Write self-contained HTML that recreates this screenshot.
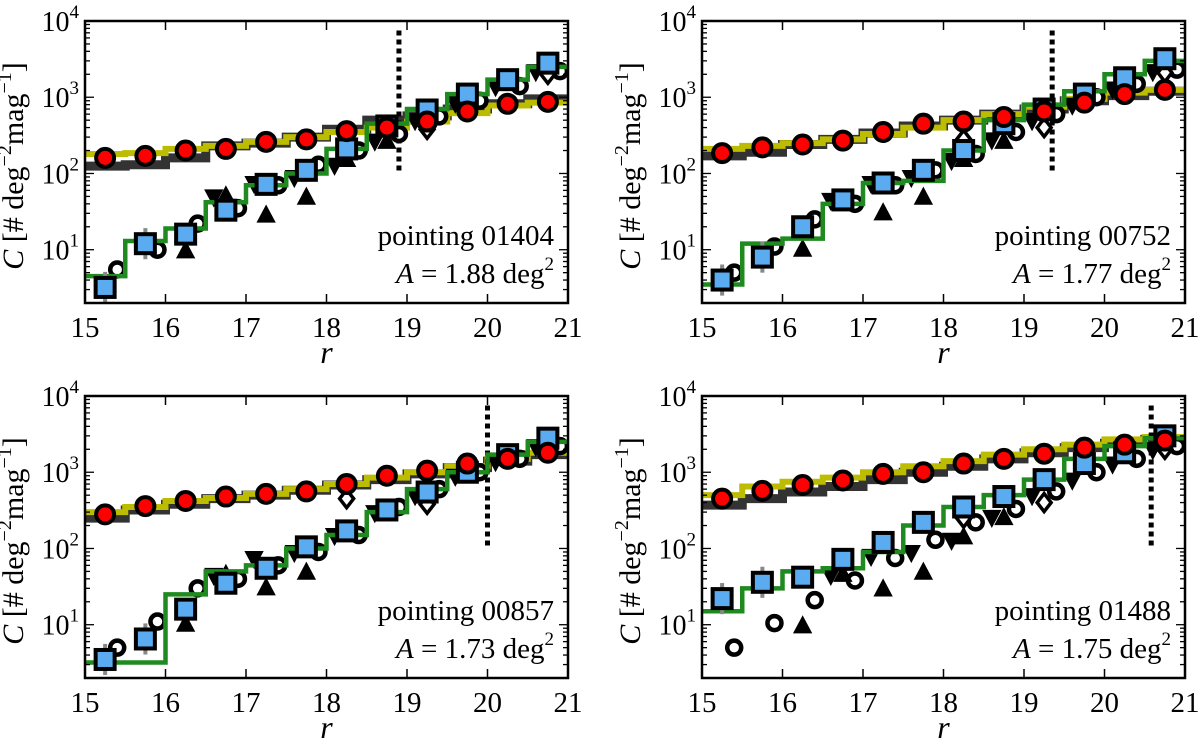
<!DOCTYPE html>
<html><head><meta charset="utf-8"><style>
body{margin:0;background:#fff;}
svg{display:block;}
text{font-family:"Liberation Serif","DejaVu Serif",serif;}
</style></head><body>
<svg id="fig" width="1200" height="739" viewBox="0 0 1200 739" xmlns="http://www.w3.org/2000/svg" font-family="'Liberation Serif', 'DejaVu Serif', serif"></svg>
<script>
const binCenters=[15.25,15.75,16.25,16.75,17.25,17.75,18.25,18.75,19.25,19.75,20.25,20.75];
const pointingNames=["01404","00752","00857","01488"];
const areaValues=["1.88","1.77","1.73","1.75"];
const cutMag=[18.9,19.35,20.0,20.58];
const redP1=[160,170,200,210,260,280,360,400,480,650,820,870];
const redP2=[185,220,240,270,350,450,480,550,650,850,1100,1250];
const redP3=[280,360,420,480,520,560,700,900,1050,1300,1500,1800];
const redP4=[450,570,680,780,950,1000,1300,1500,1750,2100,2300,2600];
const blueP1=[3.2,12,16,33,72,110,210,420,680,1100,1700,2800];
const blueP2=[4,8,20,45,75,110,200,450,700,1100,1800,3200];
const blueP3=[3.5,6.5,16,35,55,105,170,320,550,1000,1700,2800];
const blueP4=[22,36,42,72,120,220,350,480,800,1300,1800,3000];
const greenP1=[4.5,13,19,42,70,100,210,450,700,1100,1700,2500];
const greenP2=[3.5,12,14,40,75,80,200,500,800,1200,2000,3000];
const greenP3=[3.2,3.2,25,50,60,100,150,300,600,1000,1700,2500];
const greenP4=[15,30,50,55,90,200,350,500,800,1500,2200,2800];
const yellowP1=[180,185,210,230,260,300,350,400,480,620,780,850];
const yellowP2=[210,230,250,280,330,400,500,600,750,950,1150,1250];
const yellowP3=[300,350,420,460,520,600,700,850,1000,1200,1500,1800];
const yellowP4=[500,650,750,850,1000,1200,1400,1700,2000,2300,2700,2900];
const grayP1=[125,130,160,230,250,300,380,500,570,700,820,950];
const grayP2=[170,190,240,280,340,420,500,600,700,900,1050,1200];
const grayP3=[250,320,380,450,500,580,680,800,950,1150,1400,1700];
const grayP4=[370,450,550,650,800,1000,1200,1500,1800,2100,2400,2700];
const ringMagP=[15.4,15.9,16.4,16.9,17.4,17.9,18.4,18.9,19.4,19.9,20.4,20.9];
const ringP1=[5.5,10,22,35,70,130,200,330,560,900,1400,2200];
const ringP2=[5,11,25,40,70,110,180,350,600,1000,1500,2300];
const ringP3=[5,11,30,40,60,90,150,350,600,1000,1500,2200];
const ringP4=[5,10.5,21,38,75,130,220,330,560,1000,1500,2200];
const triUpMag=[16.25,16.75,17.25,17.75,18.25,18.75];
const triUpP1=[9.5,50,28,48,150,260];
const triUpP2=[10,45,30,48,150,260];
const triUpP3=[10,45,30,48,150,300];
const triUpP4=[9.5,45,29,48,140,250];
const triDnMag=[16.6,17.1,17.6,18.1,18.6,19.1,19.6,20.1,20.6];
const triDnP1=[50,75,90,130,270,500,850,1400,2200];
const triDnP2=[45,75,90,150,280,500,800,1300,2200];
const triDnP3=[45,75,90,150,300,500,900,1400,2200];
const triDnP4=[45,80,90,130,260,500,800,1300,2000];
const diaMag=[18.25,19.25,20.75];
const diaP1=[250,380,2000];
const diaP2=[280,400,2100];
const diaP3=[450,380,2000];
const diaP4=[250,400,2000];

const panels=[
 {x0:85,y0:21,red:redP1,blue:blueP1,green:greenP1,yel:yellowP1,gray:grayP1,ring:ringP1,tu:triUpP1,td:triDnP1,dia:diaP1},
 {x0:702,y0:21,red:redP2,blue:blueP2,green:greenP2,yel:yellowP2,gray:grayP2,ring:ringP2,tu:triUpP2,td:triDnP2,dia:diaP2},
 {x0:85,y0:396,red:redP3,blue:blueP3,green:greenP3,yel:yellowP3,gray:grayP3,ring:ringP3,tu:triUpP3,td:triDnP3,dia:diaP3},
 {x0:702,y0:396,red:redP4,blue:blueP4,green:greenP4,yel:yellowP4,gray:grayP4,ring:ringP4,tu:triUpP4,td:triDnP4,dia:diaP4}
];
const W=483,H=282,XMIN=15,XMAX=21,YMIN=Math.log10(2),YMAX=4;
const NS="http://www.w3.org/2000/svg";
const FF="'Liberation Serif', 'DejaVu Serif', serif";
const fig=document.getElementById('fig');
function mk(tag,attrs,parent,text){const e=document.createElementNS(NS,tag);for(const k in attrs)e.setAttribute(k,attrs[k]);if(tag==='text')e.setAttribute('font-family',FF);if(text!==undefined)e.textContent=text;parent.appendChild(e);return e;}

panels.forEach((p,i)=>{
 const sx=v=>p.x0+(v-XMIN)/(XMAX-XMIN)*W;
 const sy=v=>p.y0+H-(Math.log10(v)-YMIN)/(YMAX-YMIN)*H;
 const g=mk('g',{},fig);
 
 
 const cid='clip'+i;
 const cp=mk('clipPath',{id:cid},g);mk('rect',{x:p.x0,y:p.y0,width:W,height:H},cp);
 const plot=mk('g',{'clip-path':'url(#'+cid+')'},g);
 function step(arr,color,width,name){
  let d='';arr.forEach((v,k)=>{const xa=sx(15+k*0.5),xb=sx(15.5+k*0.5),y=sy(v);d+=(k?'L':'M')+xa+','+y+'L'+xb+','+y;});
  const e=mk('path',{d:d,fill:'none',stroke:color,'stroke-width':width},plot);
  
 }
 step(p.gray,'#333333',9,'gray-step-line');
 step(p.yel,'#bcbc00',6,'yellow-step-line');
 const dl=mk('line',{x1:sx(cutMag[i]),x2:sx(cutMag[i]),y1:sy(7500),y2:sy(100),stroke:'#000','stroke-width':5,'stroke-dasharray':'5,4'},plot);
 
 p.ring.forEach((v,k)=>{const c=mk('circle',{cx:sx(ringMagP[k]),cy:sy(v),r:7,fill:'#fff',stroke:'#000','stroke-width':4.5},plot);
  });
 p.tu.forEach((v,k)=>{const x=sx(triUpMag[k]),y=sy(v);const t=mk('polygon',{points:`${x},${y-9} ${x-8},${y+6} ${x+8},${y+6}`,fill:'#000',stroke:'#000','stroke-width':2},plot);
  });
 p.td.forEach((v,k)=>{const x=sx(triDnMag[k]),y=sy(v);const t=mk('polygon',{points:`${x},${y+9} ${x-8},${y-6} ${x+8},${y-6}`,fill:'#000',stroke:'#000','stroke-width':2},plot);
  });
 p.dia.forEach((v,k)=>{const x=sx(diaMag[k]),y=sy(v);const t=mk('polygon',{points:`${x},${y-9} ${x+7},${y} ${x},${y+9} ${x-7},${y}`,fill:'#fff',stroke:'#000','stroke-width':3.5},plot);
  });
 step(p.green,'#1f8a1f',4.5,'green-step-line');
 p.blue.forEach((v,k)=>{const x=sx(binCenters[k]),y=sy(v);
  if(k<2){const eb=mk('line',{x1:x,x2:x,y1:sy(v*1.6),y2:sy(v/1.6),stroke:'#888','stroke-width':4},plot);
   }
  const r=mk('rect',{x:x-9.5,y:y-9.5,width:19,height:19,fill:'#5aabf0',stroke:'#000','stroke-width':4},plot);
  });
 p.red.forEach((v,k)=>{const c=mk('circle',{cx:sx(binCenters[k]),cy:sy(v),r:9,fill:'#f00',stroke:'#000','stroke-width':4},plot);
  });
 const fr=mk('rect',{x:p.x0,y:p.y0,width:W,height:H,fill:'none',stroke:'#000','stroke-width':2.5},g);
 
 for(let t=15;t<=21;t++){const x=sx(t);
  mk('line',{x1:x,x2:x,y1:p.y0+H,y2:p.y0+H-9,stroke:'#000','stroke-width':1.5},g);
  mk('line',{x1:x,x2:x,y1:p.y0,y2:p.y0+9,stroke:'#000','stroke-width':1.5},g);
  const tl=mk('text',{x:x,y:p.y0+H+34,'font-size':29,'text-anchor':'middle'},g,String(t));
  }
 for(let d=0;d<4;d++){for(let m=1;m<10;m++){const v=m*Math.pow(10,d);if(v<2)continue;const y=sy(v);const len=m===1?9:5;
  mk('line',{x1:p.x0,x2:p.x0+len,y1:y,y2:y,stroke:'#000','stroke-width':1.3},g);
  mk('line',{x1:p.x0+W,x2:p.x0+W-len,y1:y,y2:y,stroke:'#000','stroke-width':1.3},g);}}
 for(let d=1;d<=4;d++){const y=sy(Math.pow(10,d));
  const tl=mk('text',{x:p.x0-6,y:y+10,'font-size':28,'text-anchor':'end'},g);
  
  mk('tspan',{},tl,'10');mk('tspan',{'font-size':19,dy:-13},tl,String(d));}
 const xl=mk('text',{x:p.x0+W/2,y:p.y0+H+60,'font-size':32,'font-style':'italic','text-anchor':'middle'},g,'r');
 
 const yl=mk('text',{transform:`translate(${p.x0-62},${p.y0+H/2+4}) rotate(-90)`,'font-size':30,'text-anchor':'middle'},g);
 
 mk('tspan',{'font-style':'italic'},yl,'C ');mk('tspan',{},yl,'[# deg');mk('tspan',{'font-size':20,dy:-12},yl,'−2');
 mk('tspan',{dy:12},yl,'mag');mk('tspan',{'font-size':20,dy:-12},yl,'−1');mk('tspan',{dy:12},yl,']');
 const pt=mk('text',{x:p.x0+W-14,y:p.y0+224,'font-size':29,'text-anchor':'end'},g,'pointing '+pointingNames[i]);
 
 const at=mk('text',{x:p.x0+W-14,y:p.y0+262,'font-size':29,'text-anchor':'end'},g);
 
 mk('tspan',{'font-style':'italic'},at,'A');mk('tspan',{},at,' = '+areaValues[i]+' deg');mk('tspan',{'font-size':19,dy:-13},at,'2');
});
</script>
</body></html>
